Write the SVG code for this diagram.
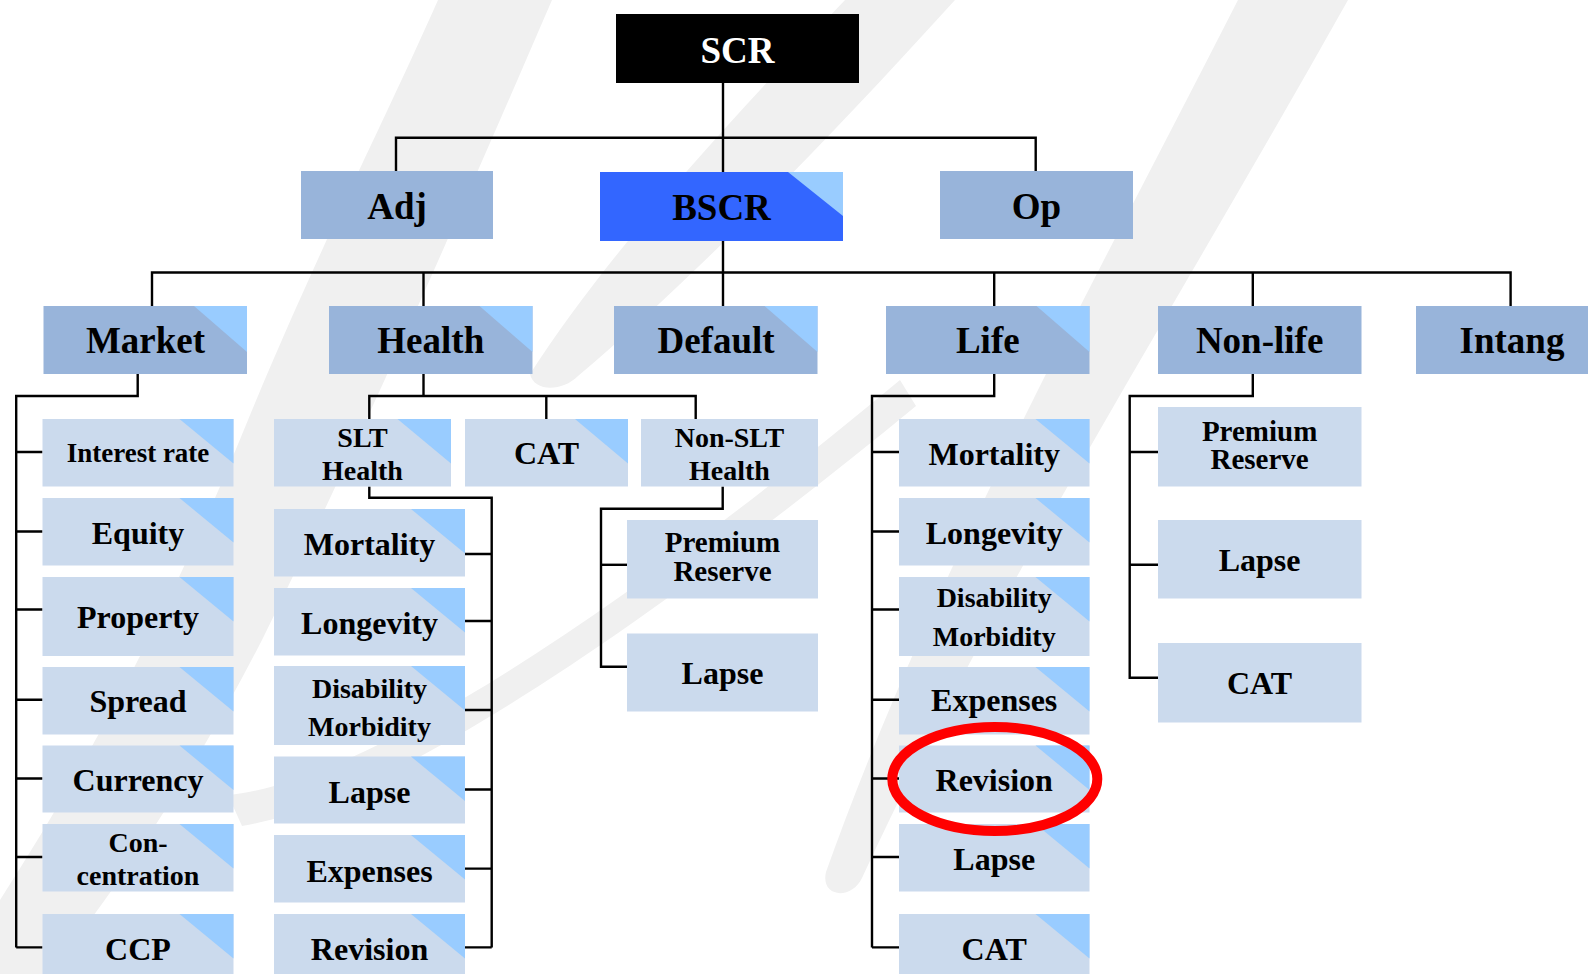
<svg xmlns="http://www.w3.org/2000/svg" width="1588" height="974" viewBox="0 0 1588 974">
  <defs>
    <style>
      .top { fill: #000000; }
      .l1 { fill: #98B4DA; }
      .hi { fill: #3366FF; }
      .l3 { fill: #CBDAED; }
      .tri { fill: #99CCFF; }
      .t { font-family: "Liberation Serif", "Times New Roman", serif; font-weight: bold; text-anchor: middle; fill: #000000; }
      .big { font-size: 37px; }
      .mid { font-size: 32px; }
      .sm { font-size: 28px; }
      .xs { font-size: 27px; }
      .pr { font-size: 29px; }
      .wire { fill: none; stroke: #000000; stroke-width: 2.4; }
      .wm { fill: #F0F0F0; }
      .mark { fill: none; stroke: #FF0000; stroke-width: 10; }
    </style>
  </defs>

  <rect width="1588" height="974" fill="#FFFFFF"/>

  <!-- faint background logo strokes -->
  <g id="watermark">
    <path class="wm" d="M438,0 L552,0 C470,190 370,420 262,640 C190,780 110,900 48,974 L0,974 L0,900 C90,760 175,600 248,420 C318,250 385,120 438,0 Z"/>
    <path class="wm" d="M845,0 L955,0 C810,160 680,290 578,376 C562,392 534,392 530,374 C610,250 730,120 845,0 Z"/>
    <path class="wm" d="M1238,0 L1348,0 C1180,300 990,600 862,878 C852,900 820,898 826,872 C930,580 1090,290 1238,0 Z"/>
    <path class="wm" d="M228,795 C380,780 660,580 900,380 L916,406 C680,600 400,800 242,826 Z"/>
  </g>

  <!-- connectors -->
  <g id="connectors" class="wire">
    <path d="M723,83 V172"/>
    <path d="M396,171 V137.7 H1035.7 V171"/>
    <path d="M723,241 V306"/>
    <path d="M152,306 V272.5 H1510.6 V306"/>
    <path d="M423.5,272.5 V306"/>
    <path d="M994.2,272.5 V306"/>
    <path d="M1252.8,272.5 V306"/>

    <path d="M137.7,374 V396 H16.2 V947.4"/>
    <path d="M16.2,452 H42.5 M16.2,531.5 H42.5 M16.2,609.5 H42.5 M16.2,699.7 H42.5 M16.2,778.5 H42.5 M16.2,857 H42.5 M16.2,947.4 H42.5"/>

    <path d="M423.5,374 V396"/>
    <path d="M369.3,419 V396 H695.7 V419"/>
    <path d="M546.3,396 V419"/>

    <path d="M369.3,486.5 V497.8 H491.7 V947.4"/>
    <path d="M465,554 H491.7 M465,621 H491.7 M465,710 H491.7 M465,789.5 H491.7 M465,868.6 H491.7 M465,947.4 H491.7"/>

    <path d="M722.7,486.5 V508.8 H601 V666.7 H627"/>
    <path d="M601,564.8 H627"/>

    <path d="M994.2,374 V396 H872 V947.4"/>
    <path d="M872,452 H899 M872,531.5 H899 M872,609.5 H899 M872,699.7 H899 M872,778.5 H899 M872,857 H899 M872,947.4 H899"/>

    <path d="M1252.8,374 V396 H1129.7 V677.7 H1158"/>
    <path d="M1129.7,452 H1158 M1129.7,564.8 H1158"/>
  </g>

  <!-- top -->
  <g id="scr">
    <rect class="top" x="616" y="14" width="243" height="69"/>
    <text class="t big" x="737.5" y="63" style="fill:#FFFFFF">SCR</text>
  </g>

  <!-- first level -->
  <g id="adj">
    <rect class="l1" x="301" y="171" width="192" height="68"/>
    <text class="t big" x="397" y="218.5">Adj</text>
  </g>
  <g id="bscr">
    <rect class="hi" x="600" y="172" width="243" height="69"/>
    <polygon class="tri" points="788,172 843,172 843,216"/>
    <text class="t big" x="721.5" y="219.5">BSCR</text>
  </g>
  <g id="op">
    <rect class="l1" x="940" y="171" width="193" height="68"/>
    <text class="t big" x="1036.5" y="218.5">Op</text>
  </g>

  <!-- risk modules -->
  <g id="market">
    <rect class="l1" x="43.5" y="306" width="203.5" height="68"/>
    <polygon class="tri" points="194,306 247,306 247,352"/>
    <text class="t big" x="145.5" y="353">Market</text>
  </g>
  <g id="health">
    <rect class="l1" x="329" y="306" width="203.5" height="68"/>
    <polygon class="tri" points="479.5,306 532.5,306 532.5,352"/>
    <text class="t big" x="430.8" y="353">Health</text>
  </g>
  <g id="default">
    <rect class="l1" x="614" y="306" width="203.5" height="68"/>
    <polygon class="tri" points="764.5,306 817.5,306 817.5,352"/>
    <text class="t big" x="716" y="353">Default</text>
  </g>
  <g id="life">
    <rect class="l1" x="886" y="306" width="203.5" height="68"/>
    <polygon class="tri" points="1036.5,306 1089.5,306 1089.5,352"/>
    <text class="t big" x="987.8" y="353">Life</text>
  </g>
  <g id="nonlife">
    <rect class="l1" x="1158" y="306" width="203.5" height="68"/>
    <text class="t big" x="1259.6" y="353">Non-life</text>
  </g>
  <g id="intang">
    <rect class="l1" x="1416" y="306" width="203.5" height="68"/>
    <text class="t big" x="1512" y="353">Intang</text>
  </g>

  <!-- market sub-modules -->
  <g id="mkt-interest">
    <rect class="l3" x="42.5" y="419" width="191" height="67.5"/>
    <polygon class="tri" points="179.5,419 233.5,419 233.5,463.5"/>
    <text class="t xs" x="138" y="461.5">Interest rate</text>
  </g>
  <g id="mkt-equity">
    <rect class="l3" x="42.5" y="498" width="191" height="67.5"/>
    <polygon class="tri" points="179.5,498 233.5,498 233.5,542.5"/>
    <text class="t mid" x="138" y="543.5">Equity</text>
  </g>
  <g id="mkt-property">
    <rect class="l3" x="42.5" y="577" width="191" height="79"/>
    <polygon class="tri" points="179.5,577 233.5,577 233.5,621.5"/>
    <text class="t mid" x="138" y="628">Property</text>
  </g>
  <g id="mkt-spread">
    <rect class="l3" x="42.5" y="667" width="191" height="67.5"/>
    <polygon class="tri" points="179.5,667 233.5,667 233.5,711.5"/>
    <text class="t mid" x="138" y="712">Spread</text>
  </g>
  <g id="mkt-currency">
    <rect class="l3" x="42.5" y="745.5" width="191" height="67"/>
    <polygon class="tri" points="179.5,745.5 233.5,745.5 233.5,790"/>
    <text class="t mid" x="138" y="791">Currency</text>
  </g>
  <g id="mkt-concentration">
    <rect class="l3" x="42.5" y="824" width="191" height="67.5"/>
    <polygon class="tri" points="179.5,824 233.5,824 233.5,868.5"/>
    <text class="t sm" x="138" y="851.6">Con-</text>
    <text class="t sm" x="138" y="884.5">centration</text>
  </g>
  <g id="mkt-ccp">
    <rect class="l3" x="42.5" y="914" width="191" height="68"/>
    <polygon class="tri" points="179.5,914 233.5,914 233.5,958.5"/>
    <text class="t mid" x="138" y="959.5">CCP</text>
  </g>

  <!-- health sub-modules -->
  <g id="hlt-slt">
    <rect class="l3" x="274" y="419" width="177" height="67.5"/>
    <polygon class="tri" points="397.5,419 451,419 451,463.5"/>
    <text class="t sm" x="362.5" y="447.4">SLT</text>
    <text class="t sm" x="362.5" y="480.4">Health</text>
  </g>
  <g id="hlt-cat">
    <rect class="l3" x="465" y="419" width="163" height="67.5"/>
    <polygon class="tri" points="575,419 628,419 628,463.5"/>
    <text class="t mid" x="546.5" y="464">CAT</text>
  </g>
  <g id="hlt-nonslt">
    <rect class="l3" x="641" y="419" width="177" height="67.5"/>
    <text class="t sm" x="729.4" y="447.4">Non-SLT</text>
    <text class="t sm" x="729.4" y="480.4">Health</text>
  </g>

  <g id="slt-mortality">
    <rect class="l3" x="274" y="509" width="191" height="67.5"/>
    <polygon class="tri" points="411,509 465,509 465,553.5"/>
    <text class="t mid" x="369.5" y="555">Mortality</text>
  </g>
  <g id="slt-longevity">
    <rect class="l3" x="274" y="588" width="191" height="67.5"/>
    <polygon class="tri" points="411,588 465,588 465,632.5"/>
    <text class="t mid" x="369.5" y="633.5">Longevity</text>
  </g>
  <g id="slt-disability">
    <rect class="l3" x="274" y="666" width="191" height="79"/>
    <polygon class="tri" points="411,666 465,666 465,710.5"/>
    <text class="t sm" x="369.5" y="697.5">Disability</text>
    <text class="t sm" x="369.5" y="736">Morbidity</text>
  </g>
  <g id="slt-lapse">
    <rect class="l3" x="274" y="756.5" width="191" height="67"/>
    <polygon class="tri" points="411,756.5 465,756.5 465,801"/>
    <text class="t mid" x="369.5" y="802.5">Lapse</text>
  </g>
  <g id="slt-expenses">
    <rect class="l3" x="274" y="835" width="191" height="67.5"/>
    <polygon class="tri" points="411,835 465,835 465,879.5"/>
    <text class="t mid" x="369.5" y="881.5">Expenses</text>
  </g>
  <g id="slt-revision">
    <rect class="l3" x="274" y="914" width="191" height="68"/>
    <polygon class="tri" points="411,914 465,914 465,958.5"/>
    <text class="t mid" x="369.5" y="960">Revision</text>
  </g>

  <g id="nslt-premium">
    <rect class="l3" x="627" y="520" width="191" height="78.5"/>
    <text class="t pr" x="722.5" y="552.3">Premium</text>
    <text class="t pr" x="722.5" y="580.8">Reserve</text>
  </g>
  <g id="nslt-lapse">
    <rect class="l3" x="627" y="633.5" width="191" height="78"/>
    <text class="t mid" x="722.5" y="684">Lapse</text>
  </g>

  <!-- life sub-modules -->
  <g id="life-mortality">
    <rect class="l3" x="899" y="419" width="190.5" height="67.5"/>
    <polygon class="tri" points="1035.5,419 1089.5,419 1089.5,463.5"/>
    <text class="t mid" x="994.2" y="465">Mortality</text>
  </g>
  <g id="life-longevity">
    <rect class="l3" x="899" y="498" width="190.5" height="67.5"/>
    <polygon class="tri" points="1035.5,498 1089.5,498 1089.5,542.5"/>
    <text class="t mid" x="994.2" y="543.6">Longevity</text>
  </g>
  <g id="life-disability">
    <rect class="l3" x="899" y="577" width="190.5" height="79"/>
    <polygon class="tri" points="1035.5,577 1089.5,577 1089.5,621.5"/>
    <text class="t sm" x="994.2" y="606.5">Disability</text>
    <text class="t sm" x="994.2" y="646.3">Morbidity</text>
  </g>
  <g id="life-expenses">
    <rect class="l3" x="899" y="667" width="190.5" height="67.5"/>
    <polygon class="tri" points="1035.5,667 1089.5,667 1089.5,711.5"/>
    <text class="t mid" x="994.2" y="711.4">Expenses</text>
  </g>
  <g id="life-revision">
    <rect class="l3" x="899" y="745.5" width="190.5" height="67"/>
    <polygon class="tri" points="1035.5,745.5 1089.5,745.5 1089.5,790"/>
    <text class="t mid" x="994.2" y="791">Revision</text>
  </g>
  <g id="life-lapse">
    <rect class="l3" x="899" y="824" width="190.5" height="67.5"/>
    <polygon class="tri" points="1035.5,824 1089.5,824 1089.5,868.5"/>
    <text class="t mid" x="994.2" y="869.8">Lapse</text>
  </g>
  <g id="life-cat">
    <rect class="l3" x="899" y="914" width="190.5" height="68"/>
    <polygon class="tri" points="1035.5,914 1089.5,914 1089.5,958.5"/>
    <text class="t mid" x="994.2" y="959.5">CAT</text>
  </g>

  <!-- non-life sub-modules -->
  <g id="nl-premium">
    <rect class="l3" x="1158" y="407" width="203.5" height="79.5"/>
    <text class="t pr" x="1259.6" y="440.6">Premium</text>
    <text class="t pr" x="1259.6" y="469">Reserve</text>
  </g>
  <g id="nl-lapse">
    <rect class="l3" x="1158" y="520" width="203.5" height="78.5"/>
    <text class="t mid" x="1259.6" y="571.3">Lapse</text>
  </g>
  <g id="nl-cat">
    <rect class="l3" x="1158" y="643" width="203.5" height="79.5"/>
    <text class="t mid" x="1259.6" y="694.4">CAT</text>
  </g>

  <!-- highlight around life revision risk -->
  <ellipse class="mark" cx="994.8" cy="779" rx="102.5" ry="52"/>
</svg>
